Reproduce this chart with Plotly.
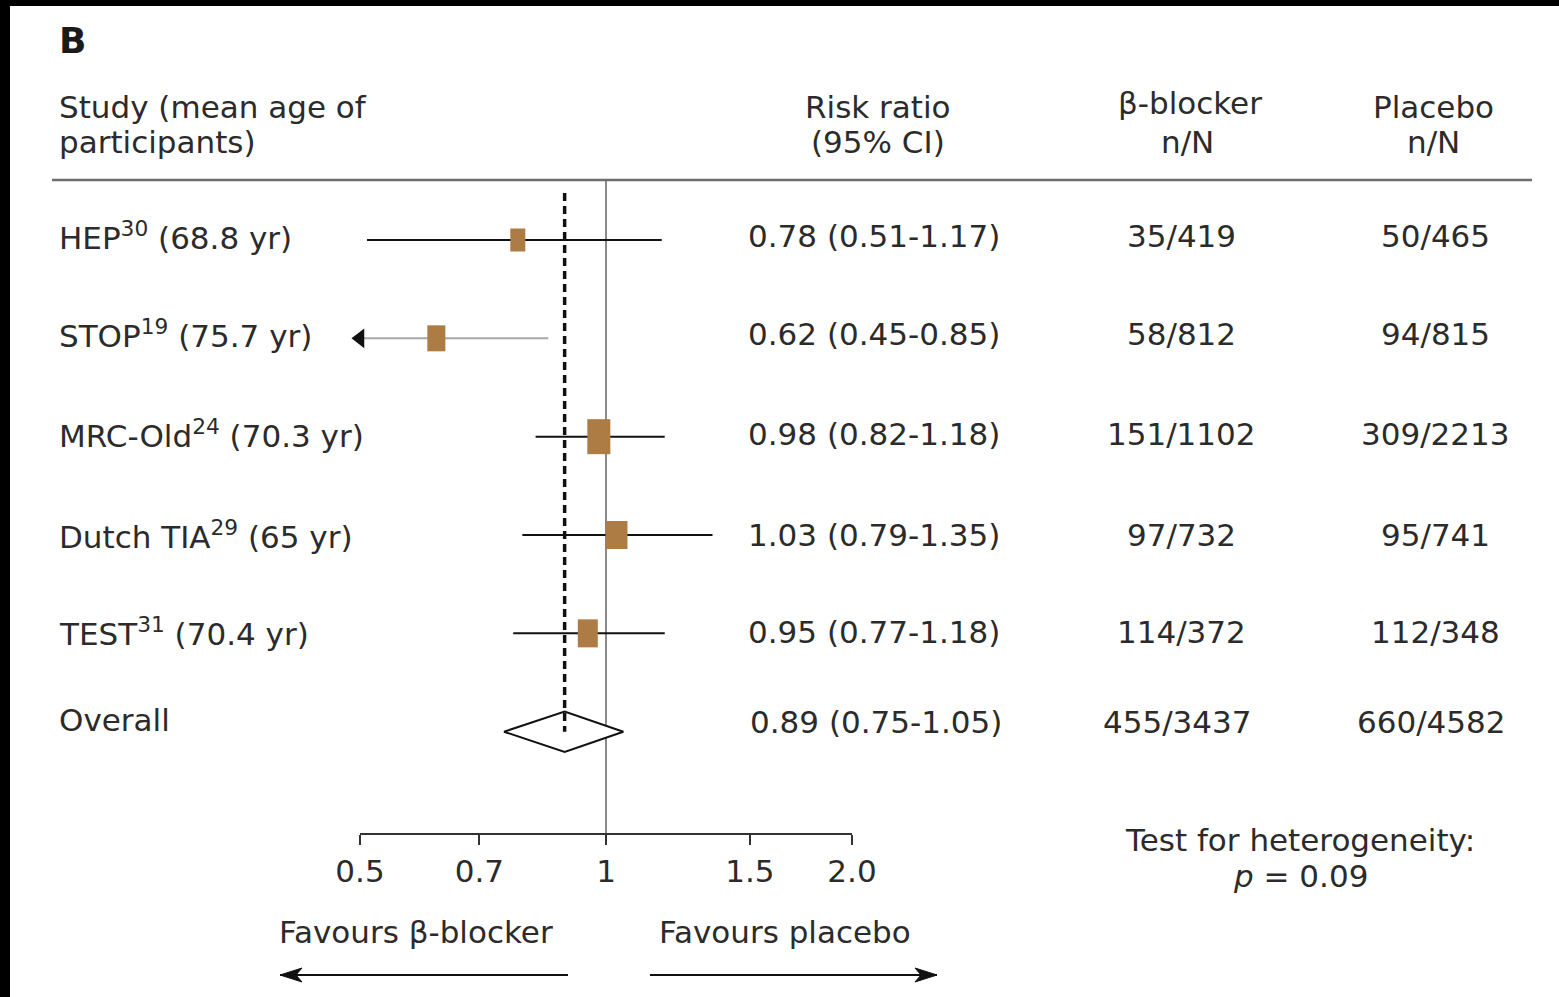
import math
import plotly.graph_objects as go

# ---------------- data ----------------
studies = ["HEP", "STOP", "MRC-Old", "Dutch TIA", "TEST"]
refs = ["30", "19", "24", "29", "31"]
ages = ["68.8", "75.7", "70.3", "65", "70.4"]
rr = [0.78, 0.62, 0.98, 1.03, 0.95]
ci_lo = [0.51, 0.45, 0.82, 0.79, 0.77]
ci_hi = [1.17, 0.85, 1.18, 1.35, 1.18]
bb_counts = ["35/419", "58/812", "151/1102", "97/732", "114/372"]
pl_counts = ["50/465", "94/815", "309/2213", "95/741", "112/348"]
overall_rr = 0.89
overall_lo = 0.75
overall_hi = 1.05
overall_bb = "455/3437"
overall_pl = "660/4582"
tick_vals = [0.5, 0.7, 1, 1.5, 2.0]
tick_text = ["0.5", "0.7", "1", "1.5", "2.0"]
heterogeneity_p = "0.09"

# ---------------- style ----------------
W, H = 1559, 997
FONT = "DejaVu Sans"
TXT = "#2b2b2b"
BOX = "#AD7B44"
FS = 31
box_w = [15, 18, 23, 22, 20]   # box widths (px)
box_h = [23, 26, 35, 28, 28]   # box heights (px)
row_text_y = [236, 334, 434, 535, 632, 722]


def px(x):
    return x / W


def py(y):
    return 1 - y / H


fig = go.Figure()

n = len(studies)
# CI lines
for i in range(n):
    col = "#a8a8a8" if ci_lo[i] < tick_vals[0] else "#111111"
    fig.add_trace(go.Scatter(x=[ci_lo[i], ci_hi[i]], y=[i, i], mode="lines",
                             line=dict(color=col, width=2), hoverinfo="skip"))
    if ci_lo[i] < tick_vals[0]:
        # truncated interval: arrow head at the axis limit
        fig.add_trace(go.Scatter(x=[tick_vals[0]], y=[i], mode="markers",
                                 marker=dict(symbol="triangle-left", size=17,
                                             color="#111111"),
                                 cliponaxis=False, hoverinfo="skip"))

# study boxes: a thick vertical-line marker gives a w x h rectangle
for i in range(n):
    fig.add_trace(go.Scatter(
        x=[rr[i]], y=[i], mode="markers", cliponaxis=False, hoverinfo="skip",
        marker=dict(symbol="line-ns", size=box_h[i] / 1.4,
                    line=dict(color=BOX, width=box_w[i]))))

# Overall diamond
dh = 0.205
fig.add_trace(go.Scatter(
    x=[overall_lo, overall_rr, overall_hi, overall_rr, overall_lo],
    y=[n, n - dh, n, n + dh, n],
    mode="lines", fill="toself", fillcolor="white",
    line=dict(color="#111111", width=2), hoverinfo="skip"))

# dashed line at overall estimate
fig.add_trace(go.Scatter(x=[overall_rr, overall_rr], y=[-0.478, n], mode="lines",
                         line=dict(color="#111111", width=3.5, dash="8px,5px"),
                         hoverinfo="skip"))

shapes = []
# line of no effect
shapes.append(dict(type="line", xref="x", yref="paper", x0=1, x1=1,
                   y0=py(843), y1=py(180), line=dict(color="#8a8a8a", width=2),
                   layer="below"))
# header rule
shapes.append(dict(type="line", xref="paper", yref="paper", x0=px(52), x1=px(1532),
                   y0=py(180), y1=py(180), line=dict(color="#6e6e6e", width=2.5)))
# direction arrows under the axis
for (x_tail, x_tip) in [(568, 280), (650, 937)]:
    shapes.append(dict(type="line", xref="paper", yref="paper",
                       x0=px(x_tail), x1=px(x_tip), y0=py(975), y1=py(975),
                       line=dict(color="#111111", width=2)))
    d = 1 if x_tip > x_tail else -1
    shapes.append(dict(type="path", xref="paper", yref="paper",
                       path=(f"M {px(x_tip)} {py(975)} L {px(x_tip - d * 22)} {py(968)} "
                             f"L {px(x_tip - d * 16)} {py(975)} L {px(x_tip - d * 22)} {py(982)} Z"),
                       fillcolor="#111111", line=dict(color="#111111", width=1)))
# black frame bands of the scan
shapes.append(dict(type="rect", xref="paper", yref="paper", x0=0, x1=1,
                   y0=py(6), y1=1, fillcolor="black", line=dict(width=0)))
shapes.append(dict(type="rect", xref="paper", yref="paper", x0=0, x1=px(10),
                   y0=0, y1=1, fillcolor="black", line=dict(width=0)))

ann = []


def txt(x, y, s, anchor="left", size=FS, color=TXT):
    ann.append(dict(x=px(x), y=py(y), xref="paper", yref="paper", text=s,
                    showarrow=False, xanchor=anchor, yanchor="middle",
                    font=dict(family=FONT, size=size, color=color)))


txt(57, 41, "<b>B</b>", size=36, color="#1a1a1a")
txt(57, 107, "Study (mean age of")
txt(57, 142, "participants)")
txt(878, 107, "Risk ratio", "center")
txt(878, 142, "(95% CI)", "center")
txt(1190, 103, "β-blocker", "center")
txt(1187, 142, "n/N", "center")
txt(1433, 107, "Placebo", "center")
txt(1433, 142, "n/N", "center")

for i in range(n):
    yy = row_text_y[i]
    txt(57, yy, f"{studies[i]}<sup>{refs[i]}</sup> ({ages[i]} yr)")
    txt(874, yy, f"{rr[i]:.2f} ({ci_lo[i]:.2f}-{ci_hi[i]:.2f})", "center")
    txt(1181, yy, bb_counts[i], "center")
    txt(1435, yy, pl_counts[i], "center")

yy = row_text_y[n]
txt(57, yy - 2, "Overall")
txt(876, yy, f"{overall_rr:.2f} ({overall_lo:.2f}-{overall_hi:.2f})", "center")
txt(1177, yy, overall_bb, "center")
txt(1431, yy, overall_pl, "center")

txt(1300, 840, "Test for heterogeneity:", "center")
txt(1300, 876, f"<i>p</i> = {heterogeneity_p}", "center")
txt(416, 932, "Favours β-blocker", "center")
txt(785, 932, "Favours placebo", "center")

fig.update_layout(
    width=W, height=H, autosize=False,
    margin=dict(l=0, r=0, t=0, b=0, pad=0, autoexpand=False),
    paper_bgcolor="white", plot_bgcolor="rgba(0,0,0,0)",
    showlegend=False, shapes=shapes, annotations=ann,
    xaxis=dict(type="log", domain=[px(360), px(852)],
               range=[math.log10(tick_vals[0]), math.log10(tick_vals[-1])],
               tickvals=tick_vals, ticktext=tick_text, ticks="outside",
               ticklen=10, tickwidth=2, tickcolor="#333333",
               showline=True, linecolor="#333333", linewidth=2,
               showgrid=False, zeroline=False, fixedrange=True, automargin=False,
               tickfont=dict(family=FONT, size=FS, color=TXT)),
    yaxis=dict(domain=[py(833), py(180)], range=[6.03, -0.61], visible=False,
               fixedrange=True, automargin=False),
)

fig.write_html("out.html", config={"displayModeBar": False, "responsive": False},
               post_script="document.body.style.margin='0';")
